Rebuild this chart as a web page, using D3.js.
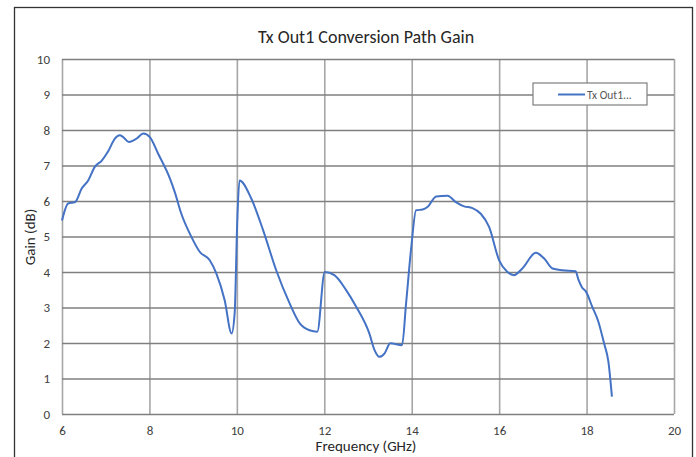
<!DOCTYPE html>
<html>
<head>
<meta charset="utf-8">
<script src="https://cdn.jsdelivr.net/npm/d3@7"></script>
<style>
  html, body { margin: 0; padding: 0; background: #fff; }
  svg { display: block; }
  text { font-family: Carlito, "Liberation Sans Narrow", "Liberation Sans", sans-serif; }
</style>
</head>
<body>
<svg id="chart" width="696" height="457"></svg>
<script>
const title = "Tx Out1 Conversion Path Gain";
const xTitle = "Frequency (GHz)";
const yTitle = "Gain (dB)";
const seriesName = "Tx Out1...";
const xTicks = [6, 8, 10, 12, 14, 16, 18, 20];
const yTicks = [0, 1, 2, 3, 4, 5, 6, 7, 8, 9, 10];
const freq = [6.00, 6.14, 6.30, 6.45, 6.60, 6.75, 6.91, 7.06, 7.21, 7.32, 7.40, 7.53, 7.71, 7.86, 8.01, 8.20, 8.47, 8.58, 8.73, 8.96, 9.15, 9.38, 9.53, 9.72, 9.88, 9.95, 10.01, 10.06, 10.33, 10.60, 10.90, 11.21, 11.44, 11.66, 11.84, 12.01, 12.23, 12.50, 12.73, 13.03, 13.15, 13.26, 13.38, 13.51, 13.78, 13.87, 13.99, 14.10, 14.25, 14.36, 14.56, 14.82, 15.01, 15.20, 15.39, 15.58, 15.77, 16.00, 16.19, 16.34, 16.53, 16.84, 17.03, 17.22, 17.45, 17.75, 17.81, 17.89, 17.99, 18.13, 18.27, 18.40, 18.50, 18.58];
const gain = [5.45, 5.93, 5.97, 6.35, 6.58, 6.96, 7.14, 7.41, 7.76, 7.85, 7.80, 7.66, 7.76, 7.90, 7.80, 7.33, 6.63, 6.25, 5.64, 4.99, 4.57, 4.33, 3.96, 3.21, 2.27, 2.85, 5.46, 6.58, 6.07, 5.18, 4.05, 3.11, 2.55, 2.36, 2.32, 4.00, 3.91, 3.49, 3.02, 2.27, 1.80, 1.61, 1.71, 1.99, 1.94, 3.10, 4.70, 5.74, 5.76, 5.83, 6.13, 6.15, 5.97, 5.85, 5.80, 5.64, 5.27, 4.33, 4.00, 3.91, 4.10, 4.54, 4.38, 4.10, 4.05, 4.02, 3.80, 3.58, 3.44, 3.02, 2.60, 1.99, 1.47, 0.49];

const svg = d3.select("#chart");
const W = 696, H = 457;
const plot = { left: 62, right: 674, top: 59, bottom: 414 };

// outer chart frame
svg.append("rect").attr("x", 14.5).attr("y", 7.5).attr("width", 678).attr("height", 460)
  .attr("fill", "#fff").attr("stroke", "#333").attr("stroke-width", 1.3);

const x = d3.scaleLinear().domain([6, 20]).range([plot.left, plot.right]);
const y = d3.scaleLinear().domain([0, 10]).range([plot.bottom, plot.top]);

// vertical gridlines
svg.append("g").attr("transform", `translate(0,${plot.bottom})`)
  .call(d3.axisBottom(x).tickValues(xTicks).tickSize(-(plot.bottom - plot.top)).tickFormat(""))
  .call(g => g.select(".domain").remove())
  .call(g => g.selectAll("line").attr("stroke", "#a6a6a6").attr("stroke-width", 1.6));

// horizontal gridlines
svg.append("g").attr("transform", `translate(${plot.left},0)`)
  .call(d3.axisLeft(y).tickValues(yTicks).tickSize(-(plot.right - plot.left)).tickFormat(""))
  .call(g => g.select(".domain").remove())
  .call(g => g.selectAll("line").attr("stroke", "#7f7f7f").attr("stroke-width", 1.6));

// x tick labels
svg.append("g").attr("transform", `translate(0,${plot.bottom})`)
  .call(d3.axisBottom(x).tickValues(xTicks).tickSize(0).tickPadding(12).tickFormat(d3.format("d")))
  .call(g => g.select(".domain").remove())
  .call(g => g.selectAll("text").attr("font-size", 13).attr("fill", "#404040")
      .style("font-family", "Carlito, 'Liberation Sans Narrow', 'Liberation Sans', sans-serif"));

// y tick labels
svg.append("g").attr("transform", `translate(${plot.left},0)`)
  .call(d3.axisLeft(y).tickValues(yTicks).tickSize(0).tickPadding(12).tickFormat(d3.format("d")))
  .call(g => g.select(".domain").remove())
  .call(g => g.selectAll("text").attr("font-size", 13).attr("fill", "#404040")
      .style("font-family", "Carlito, 'Liberation Sans Narrow', 'Liberation Sans', sans-serif"));

// data line
const pts = freq.map((f, i) => [f, gain[i]]);
const line = d3.line().x(d => x(d[0])).y(d => y(d[1])).curve(d3.curveMonotoneX);
svg.append("path").datum(pts).attr("d", line)
  .attr("fill", "none").attr("stroke", "#4472c4").attr("stroke-width", 2);

// title
svg.append("text").attr("x", 366).attr("y", 43).attr("text-anchor", "middle")
  .attr("font-size", 18).attr("fill", "#262626").text(title);

// axis titles
svg.append("text").attr("x", 366).attr("y", 451).attr("text-anchor", "middle")
  .attr("font-size", 15).attr("fill", "#262626").text(xTitle);
svg.append("text").attr("transform", "translate(35,237) rotate(-90)").attr("text-anchor", "middle")
  .attr("font-size", 15).attr("fill", "#262626").text(yTitle);

// legend
const lg = svg.append("g");
lg.append("rect").attr("x", 533).attr("y", 83).attr("width", 114).attr("height", 22)
  .attr("fill", "#fff").attr("stroke", "#7f7f7f").attr("stroke-width", 1.2);
lg.append("line").attr("x1", 558).attr("x2", 585).attr("y1", 94.5).attr("y2", 94.5)
  .attr("stroke", "#4472c4").attr("stroke-width", 2);
lg.append("text").attr("x", 587).attr("y", 98.5).attr("font-size", 11.5).attr("fill", "#595959").text(seriesName);
</script>
</body>
</html>
